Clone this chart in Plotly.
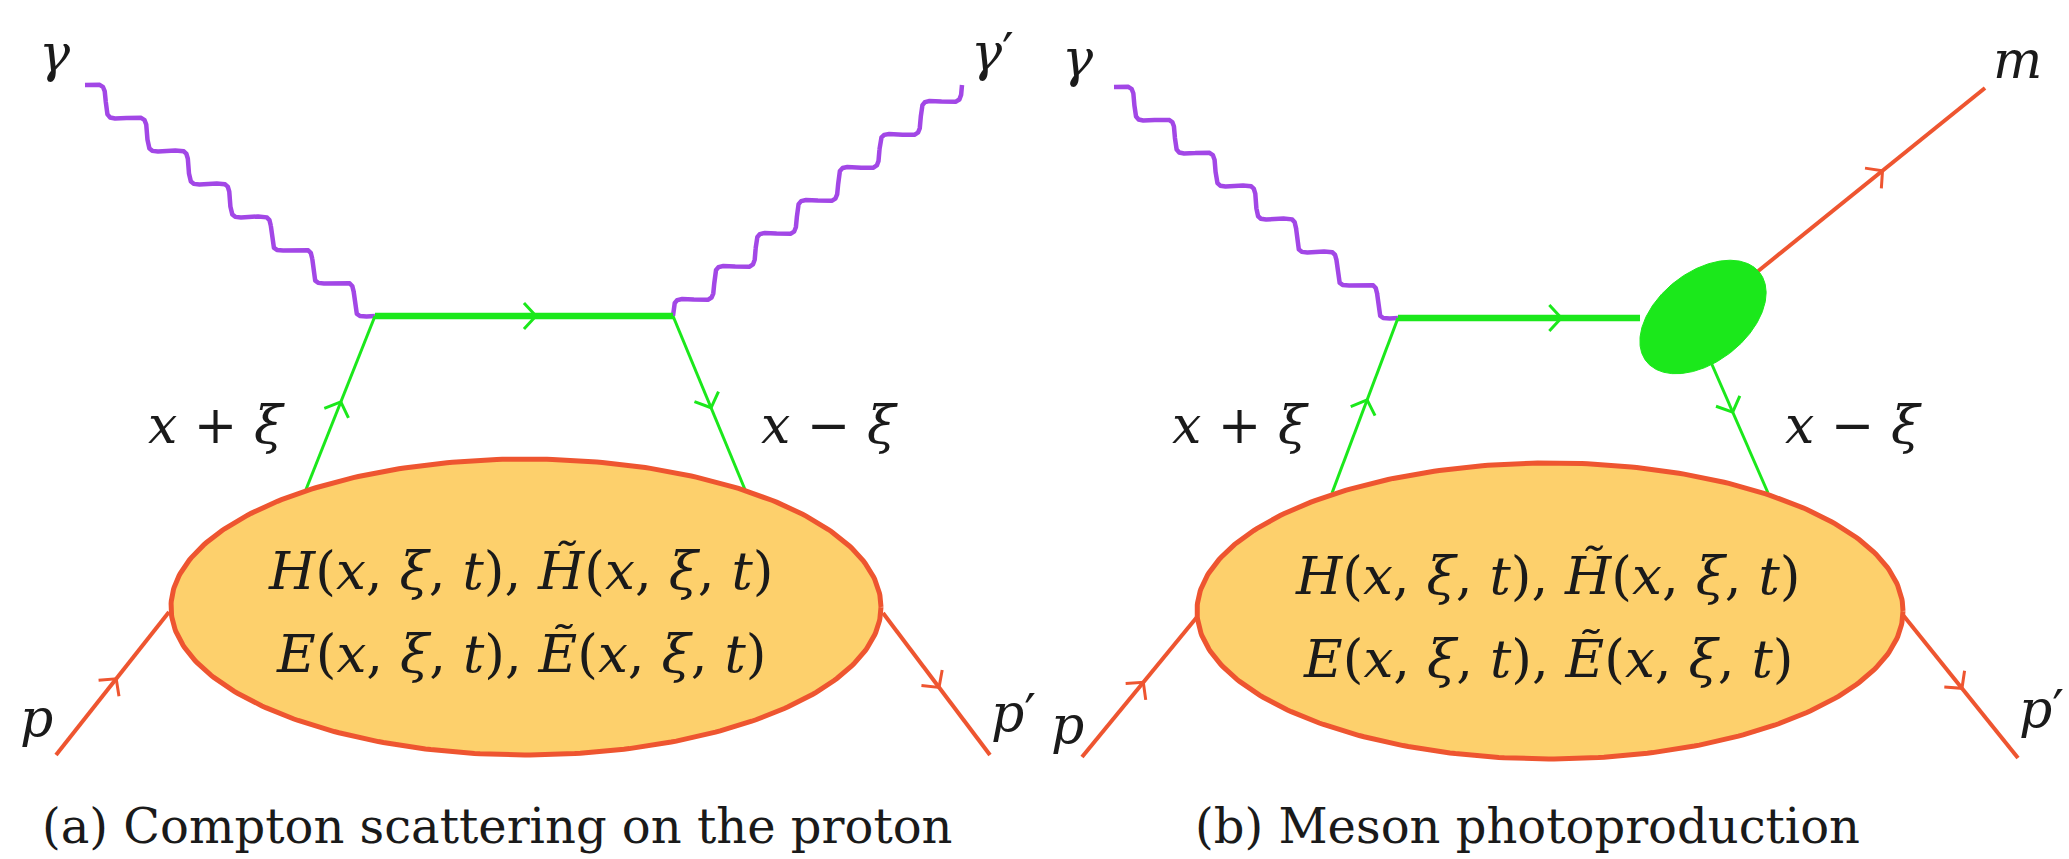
import numpy as np
import plotly.graph_objects as go

W, H = 2069, 859

# ---- diagram data (pixel coordinates of the drawing, y downward) ----
photon_starts = [(85, 85), (673, 316), (1114, 87)]
photon_ends = [(375, 316), (962, 85), (1398, 318)]
photon_periods = [7, 7, 7]
photon_phase = [1, -1, 1]

quark_starts = [(375, 316), (305, 492), (673, 316), (1398, 318), (1332, 493), (1710, 360)]
quark_ends = [(673, 316), (375, 316), (746, 492), (1640, 318), (1398, 318), (1768, 493)]
quark_widths = [6.5, 3, 3, 6.5, 3, 3]
quark_arrow_at = [0.52, 0.48, 0.49, 0.65, 0.5, 0.35]

hadron_starts = [(56, 755), (883, 613), (1082, 757), (1903, 615), (1757, 272)]
hadron_ends = [(169, 612), (990, 755), (1197, 617), (2018, 758), (1985, 88)]
hadron_arrow_at = [0.5, 0.49, 0.5, 0.48, 0.53]

blob_centers = [(526, 607), (1550, 611)]
blob_radii = [(355, 148), (353, 148)]

vertex_blob_center = (1703, 317)
vertex_blob_axes = (72, 45)
vertex_blob_angle = 38

label_texts = ["<i>γ</i>", "<i>γ</i>′", "<i>x</i> + <i>ξ</i>", "<i>x</i> − <i>ξ</i>", "<i>p</i>", "<i>p</i>′",
               "<i>γ</i>", "<i>m</i>", "<i>x</i> + <i>ξ</i>", "<i>x</i> − <i>ξ</i>", "<i>p</i>", "<i>p</i>′"]
label_pos = [(55, 53), (992, 52), (216, 425), (829, 425), (36, 718), (1013, 713),
             (1078, 58), (2017, 60), (1240, 425), (1853, 425), (1067, 725), (2041, 709)]

gpd_line1 = "<i>H</i>(<i>x</i>, <i>ξ</i>, <i>t</i>), <i>H̃</i>(<i>x</i>, <i>ξ</i>, <i>t</i>)"
gpd_line2 = "<i>E</i>(<i>x</i>, <i>ξ</i>, <i>t</i>), <i>Ẽ</i>(<i>x</i>, <i>ξ</i>, <i>t</i>)"
gpd_pos = [(521, 570), (521, 653), (1548, 575), (1548, 658)]

captions = ["(a) Compton scattering on the proton", "(b) Meson photoproduction"]
caption_pos = [(497, 826), (1527, 826)]

# ---- colours ----
PURPLE = "#A247E6"
GREEN = "#1BE81B"
RED = "#EE5530"
FILL = "#FDD06C"
TEXT = "#1a1a1a"
FONT = "DejaVu Serif"

fig = go.Figure()


def add_line(xs, ys, color, width):
    fig.add_trace(go.Scatter(x=xs, y=ys, mode="lines",
                             line=dict(color=color, width=width),
                             hoverinfo="skip", showlegend=False))


def add_arrow(p0, p1, t, color, width=3, L=12, hw=13):
    p0 = np.array(p0, float)
    p1 = np.array(p1, float)
    d = (p1 - p0) / np.linalg.norm(p1 - p0)
    n = np.array([-d[1], d[0]])
    tip = p0 + t * (p1 - p0) + d * L / 2
    a = tip - d * L + n * hw
    b = tip - d * L - n * hw
    add_line([a[0], tip[0], b[0]], [a[1], tip[1], b[1]], color, width)


# photons: rounded staircase wiggle (smoothed square-wave step profile)
for s, e, nper, sg in zip(photon_starts, photon_ends, photon_periods, photon_phase):
    Dx = (e[0] - s[0]) / nper
    Dy = (e[1] - s[1]) / nper
    phi = np.linspace(0, nper, 2400)
    k = 1.3
    sq = sg * np.tanh(k * np.cos(2 * np.pi * phi)) / np.tanh(k)
    dphi = phi[1] - phi[0]
    wv = np.concatenate([[0], np.cumsum(0.5 * (sq[1:] + sq[:-1]) * dphi)])
    xs = s[0] + Dx * (phi + 0.9 * wv)
    ys = s[1] + Dy * (phi - 1.2 * wv)
    add_line(xs, ys, PURPLE, 4.5)

# quark lines
for s, e, w, t in zip(quark_starts, quark_ends, quark_widths, quark_arrow_at):
    add_line([s[0], e[0]], [s[1], e[1]], GREEN, w)
    add_arrow(s, e, t, GREEN, 3)

# hadron lines
for s, e, t in zip(hadron_starts, hadron_ends, hadron_arrow_at):
    add_line([s[0], e[0]], [s[1], e[1]], RED, 4)
    add_arrow(s, e, t, RED, 3)

# GPD blobs
th = np.linspace(0, 2 * np.pi, 400)
for (cx, cy), (rx, ry) in zip(blob_centers, blob_radii):
    fig.add_trace(go.Scatter(x=cx + rx * np.cos(th), y=cy + ry * np.sin(th),
                             mode="lines", fill="toself", fillcolor=FILL,
                             line=dict(color=RED, width=5),
                             hoverinfo="skip", showlegend=False))

# meson vertex blob
cx, cy = vertex_blob_center
a, b = vertex_blob_axes
ang = np.deg2rad(vertex_blob_angle)
bx = cx + a * np.cos(ang) * np.cos(th) - b * np.sin(ang) * np.sin(th)
by = cy - (a * np.sin(ang) * np.cos(th) + b * np.cos(ang) * np.sin(th))
fig.add_trace(go.Scatter(x=bx, y=by, mode="lines", fill="toself", fillcolor=GREEN,
                         line=dict(color=GREEN, width=1),
                         hoverinfo="skip", showlegend=False))

annotations = []
for txt, (x, y) in zip(label_texts, label_pos):
    annotations.append(dict(x=x, y=y, text=txt, showarrow=False,
                            font=dict(family=FONT, size=52, color=TEXT),
                            xanchor="center", yanchor="middle"))
for i, (x, y) in enumerate(gpd_pos):
    annotations.append(dict(x=x, y=y, text=gpd_line1 if i % 2 == 0 else gpd_line2,
                            showarrow=False, font=dict(family=FONT, size=53, color=TEXT),
                            xanchor="center", yanchor="middle"))
for txt, (x, y) in zip(captions, caption_pos):
    annotations.append(dict(x=x, y=y, text=txt, showarrow=False,
                            font=dict(family=FONT, size=48, color=TEXT),
                            xanchor="center", yanchor="middle"))

fig.update_layout(
    width=W, height=H, margin=dict(l=0, r=0, t=0, b=0),
    paper_bgcolor="white", plot_bgcolor="white",
    xaxis=dict(range=[0, W], visible=False, fixedrange=True),
    yaxis=dict(range=[H, 0], visible=False, fixedrange=True),
    annotations=annotations, showlegend=False, hovermode=False,
)

fig.write_html("out.html")
